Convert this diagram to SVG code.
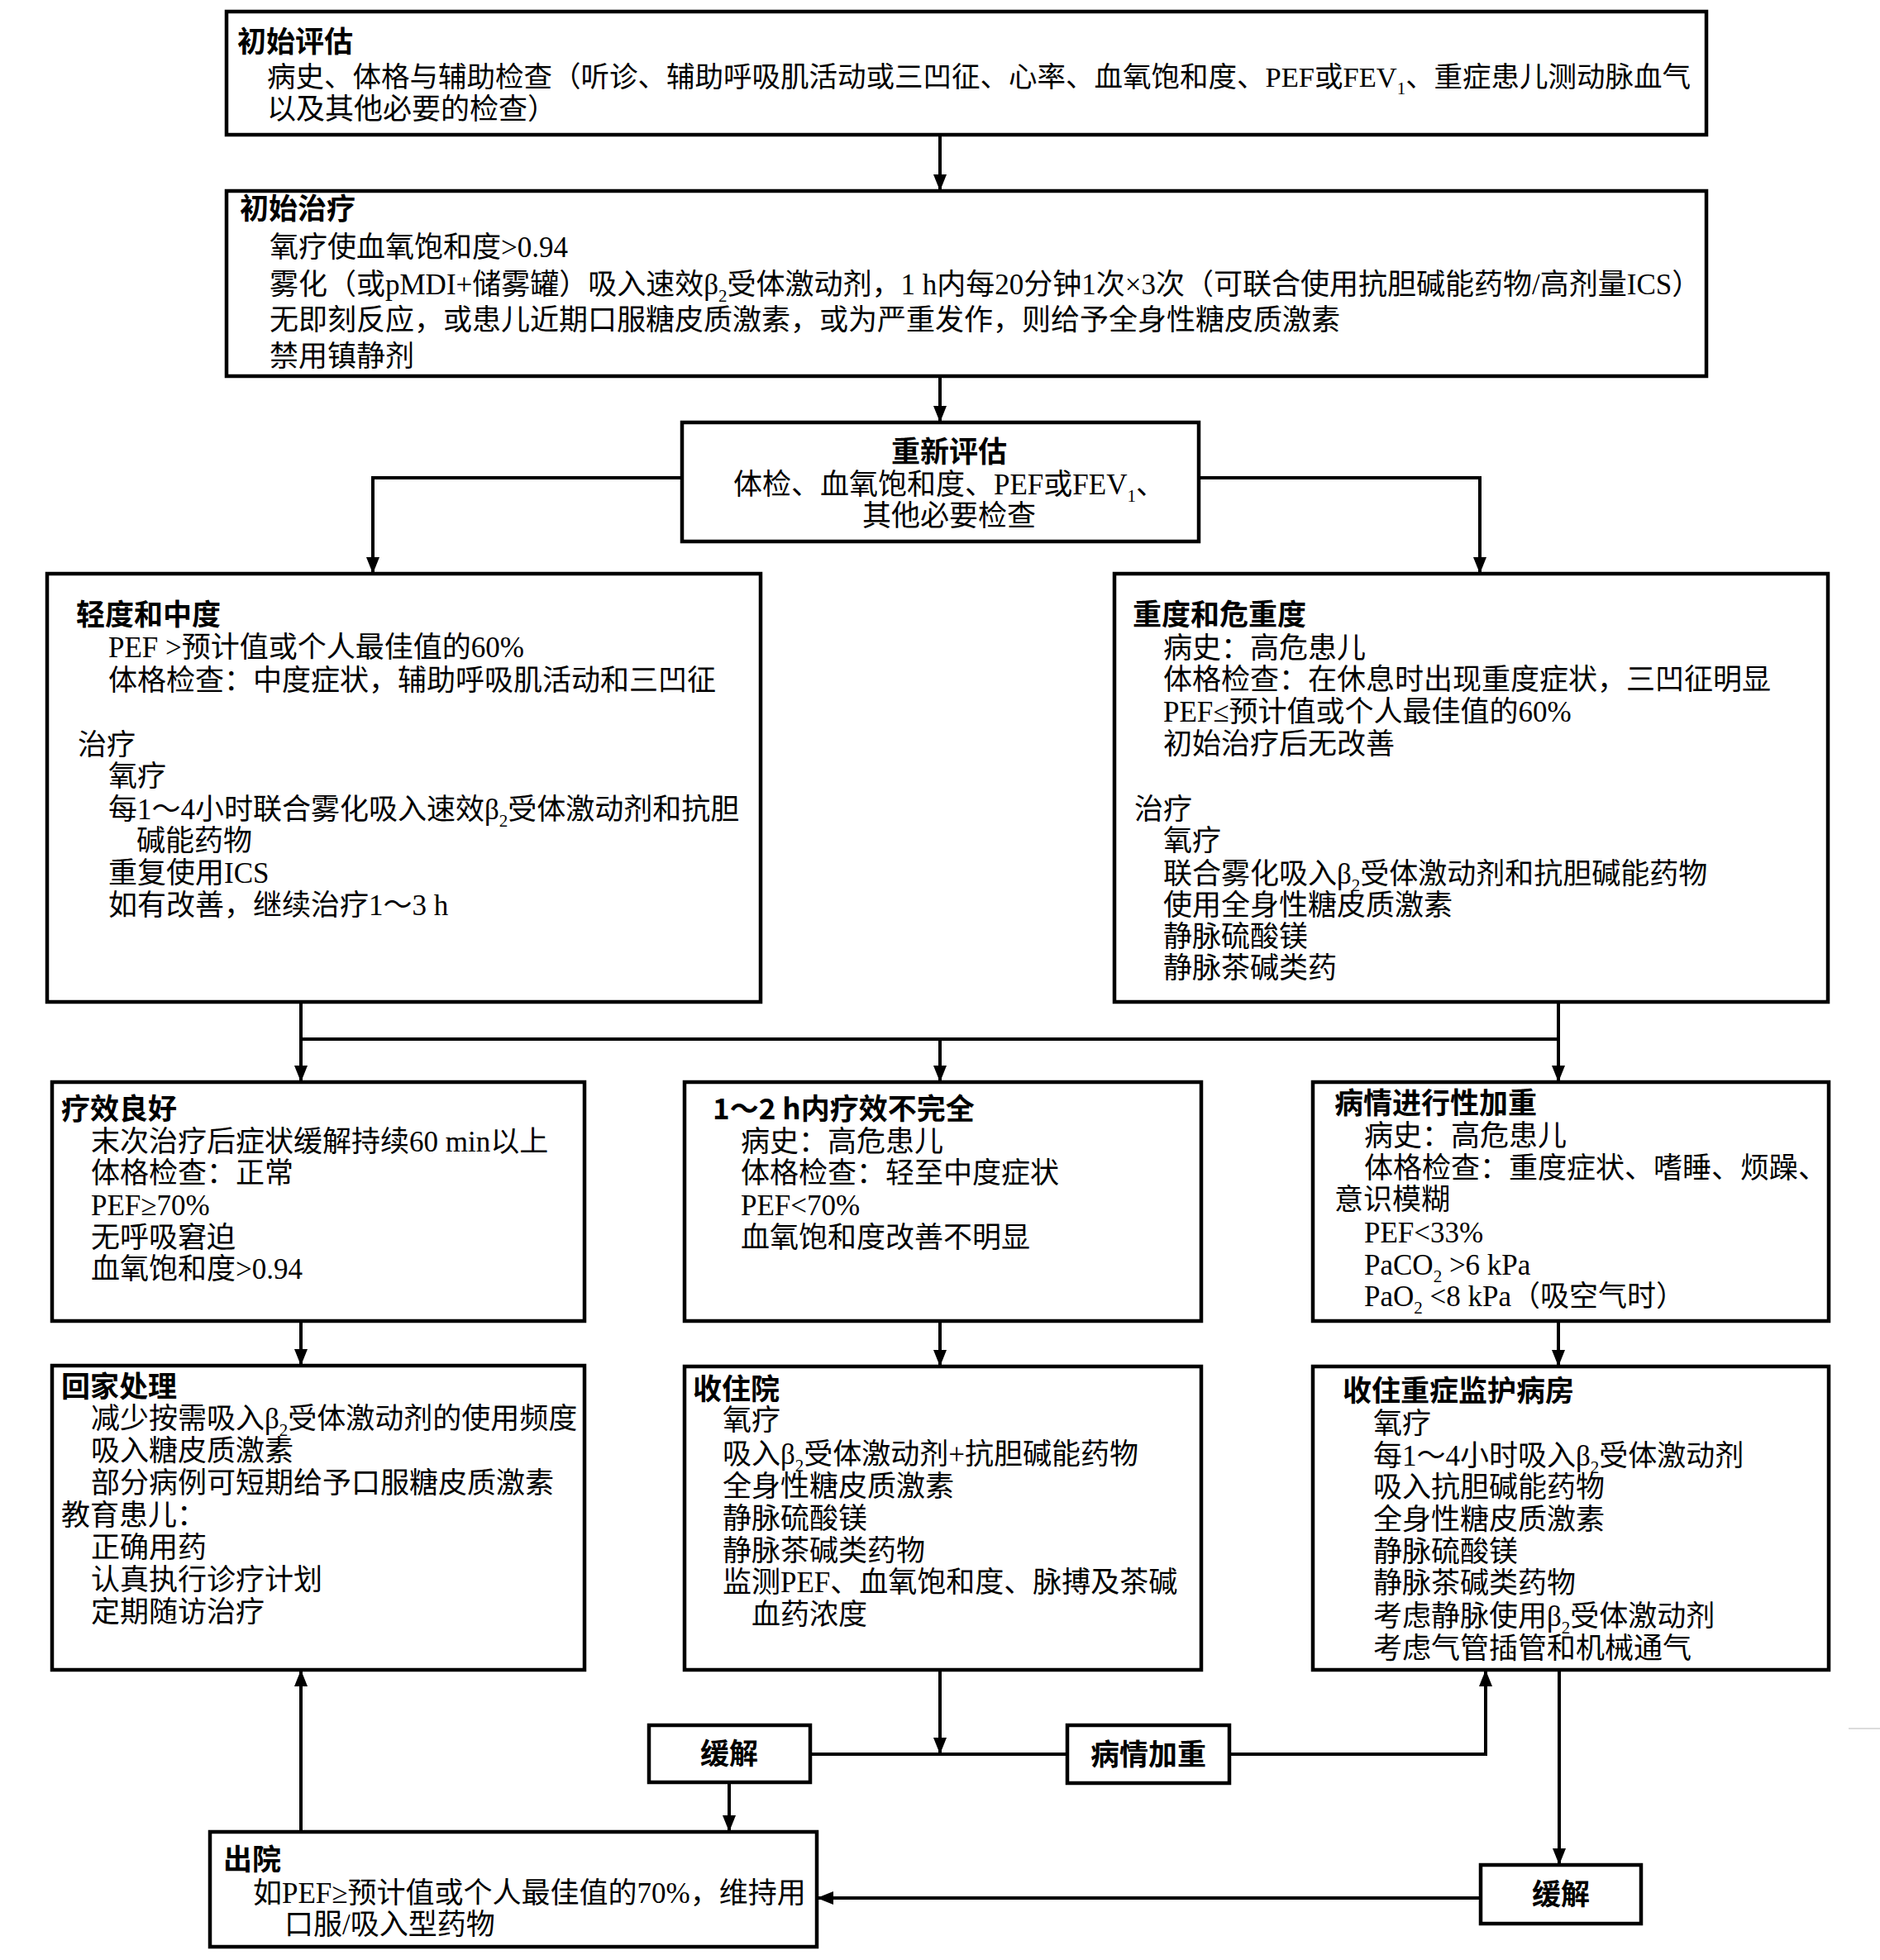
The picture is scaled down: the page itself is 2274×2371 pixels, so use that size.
<svg xmlns="http://www.w3.org/2000/svg" width="2274" height="2371" viewBox="0 0 2274 2371">
<style>
.bg{fill:#fff}
.box{fill:#fff;stroke:#000;stroke-width:4.5}
.ln{fill:none;stroke:#000;stroke-width:4}
.t{font-family:"Liberation Serif","Noto Sans CJK SC",serif;font-size:35px;fill:#000}
.h{font-family:"Noto Sans CJK SC",sans-serif;font-weight:bold;font-size:35px;fill:#000}
.c{text-anchor:middle}
.sub{font-size:21px}
</style>
<defs>
<marker id="ah" markerUnits="userSpaceOnUse" markerWidth="20" markerHeight="16" refX="20" refY="8" orient="auto">
<path d="M0,0 L20,8 L0,16 z" fill="#000"/>
</marker>
</defs>
<rect class="bg" x="0" y="0" width="2274" height="2371"/>

<g id="connectors">
<line class="ln" x1="1137" y1="163" x2="1137" y2="231" marker-end="url(#ah)"/>
<line class="ln" x1="1137" y1="455" x2="1137" y2="511" marker-end="url(#ah)"/>
<polyline class="ln" points="825,578 451,578 451,694" marker-end="url(#ah)"/>
<polyline class="ln" points="1450,578 1790,578 1790,694" marker-end="url(#ah)"/>
<line class="ln" x1="364" y1="1212" x2="364" y2="1257"/>
<line class="ln" x1="1885" y1="1212" x2="1885" y2="1257"/>
<line class="ln" x1="362" y1="1257" x2="1887" y2="1257"/>
<line class="ln" x1="364" y1="1257" x2="364" y2="1309" marker-end="url(#ah)"/>
<line class="ln" x1="1137" y1="1257" x2="1137" y2="1309" marker-end="url(#ah)"/>
<line class="ln" x1="1885" y1="1257" x2="1885" y2="1309" marker-end="url(#ah)"/>
<line class="ln" x1="364" y1="1598" x2="364" y2="1652" marker-end="url(#ah)"/>
<line class="ln" x1="1137" y1="1598" x2="1137" y2="1653" marker-end="url(#ah)"/>
<line class="ln" x1="1885" y1="1598" x2="1885" y2="1653" marker-end="url(#ah)"/>
<line class="ln" x1="364" y1="2216" x2="364" y2="2020" marker-end="url(#ah)"/>
<line class="ln" x1="1137" y1="2020" x2="1137" y2="2122" marker-end="url(#ah)"/>
<line class="ln" x1="980" y1="2122" x2="1291" y2="2122"/>
<polyline class="ln" points="1487,2122 1797,2122 1797,2020" marker-end="url(#ah)"/>
<line class="ln" x1="882" y1="2156" x2="882" y2="2216" marker-end="url(#ah)"/>
<line class="ln" x1="1886" y1="2020" x2="1886" y2="2256" marker-end="url(#ah)"/>
<line class="ln" x1="1791" y1="2296" x2="988" y2="2296" marker-end="url(#ah)"/>
</g>

<g id="n1">
<rect class="box" x="274" y="14" width="1790" height="149"/>
<text class="h" x="287" y="63">初始评估</text>
<text class="t" x="323" y="105" style="font-size:34.5px">病史、体格与辅助检查（听诊、辅助呼吸肌活动或三凹征、心率、血氧饱和度、PEF或FEV<tspan class="sub" dy="9">1</tspan><tspan dy="-9">、重症患儿测动脉血气</tspan></text>
<text class="t" x="323" y="144">以及其他必要的检查）</text>
</g>

<g id="n2">
<rect class="box" x="274" y="231" width="1790" height="224"/>
<text class="h" x="290" y="265">初始治疗</text>
<text class="t" x="326" y="311">氧疗使血氧饱和度&gt;0.94</text>
<text class="t" x="326" y="356">雾化（或pMDI+储雾罐）吸入速效β<tspan class="sub" dy="9">2</tspan><tspan dy="-9">受体激动剂，1 h内每20分钟1次×3次（可联合使用抗胆碱能药物/高剂量ICS）</tspan></text>
<text class="t" x="326" y="399">无即刻反应，或患儿近期口服糖皮质激素，或为严重发作，则给予全身性糖皮质激素</text>
<text class="t" x="326" y="443">禁用镇静剂</text>
</g>

<g id="n3">
<rect class="box" x="825" y="511" width="625" height="144"/>
<text class="h c" x="1148" y="559">重新评估</text>
<text class="t c" x="1148" y="598">体检、血氧饱和度、PEF或FEV<tspan class="sub" dy="9">1</tspan><tspan dy="-9">、</tspan></text>
<text class="t c" x="1148" y="636">其他必要检查</text>
</g>

<g id="n4">
<rect class="box" x="57" y="694" width="863" height="518"/>
<text class="h" x="92" y="756">轻度和中度</text>
<text class="t" x="131" y="795">PEF &gt;预计值或个人最佳值的60%</text>
<text class="t" x="131" y="835">体格检查：中度症状，辅助呼吸肌活动和三凹征</text>
<text class="t" x="94" y="913">治疗</text>
<text class="t" x="131" y="951">氧疗</text>
<text class="t" x="131" y="991">每1～4小时联合雾化吸入速效β<tspan class="sub" dy="9">2</tspan><tspan dy="-9">受体激动剂和抗胆</tspan></text>
<text class="t" x="165" y="1029">碱能药物</text>
<text class="t" x="131" y="1068">重复使用ICS</text>
<text class="t" x="131" y="1107">如有改善，继续治疗1～3 h</text>
</g>

<g id="n5">
<rect class="box" x="1348" y="694" width="863" height="518"/>
<text class="h" x="1370" y="756">重度和危重度</text>
<text class="t" x="1407" y="796">病史：高危患儿</text>
<text class="t" x="1407" y="834">体格检查：在休息时出现重度症状，三凹征明显</text>
<text class="t" x="1407" y="873">PEF≤预计值或个人最佳值的60%</text>
<text class="t" x="1407" y="912">初始治疗后无改善</text>
<text class="t" x="1372" y="991">治疗</text>
<text class="t" x="1407" y="1029">氧疗</text>
<text class="t" x="1407" y="1069">联合雾化吸入β<tspan class="sub" dy="9">2</tspan><tspan dy="-9">受体激动剂和抗胆碱能药物</tspan></text>
<text class="t" x="1407" y="1107">使用全身性糖皮质激素</text>
<text class="t" x="1407" y="1145">静脉硫酸镁</text>
<text class="t" x="1407" y="1183">静脉茶碱类药</text>
</g>

<g id="n6">
<rect class="box" x="63" y="1309" width="644" height="289"/>
<text class="h" x="74" y="1354">疗效良好</text>
<text class="t" x="110" y="1393">末次治疗后症状缓解持续60 min以上</text>
<text class="t" x="110" y="1431">体格检查：正常</text>
<text class="t" x="110" y="1470">PEF≥70%</text>
<text class="t" x="110" y="1509">无呼吸窘迫</text>
<text class="t" x="110" y="1547">血氧饱和度&gt;0.94</text>
</g>

<g id="n7">
<rect class="box" x="828" y="1309" width="625" height="289"/>
<text class="h" x="862" y="1354">1～2 h内疗效不完全</text>
<text class="t" x="896" y="1393">病史：高危患儿</text>
<text class="t" x="896" y="1431">体格检查：轻至中度症状</text>
<text class="t" x="896" y="1470">PEF&lt;70%</text>
<text class="t" x="896" y="1509">血氧饱和度改善不明显</text>
</g>

<g id="n8">
<rect class="box" x="1588" y="1309" width="624" height="289"/>
<text class="h" x="1614" y="1347">病情进行性加重</text>
<text class="t" x="1650" y="1386">病史：高危患儿</text>
<text class="t" x="1650" y="1425">体格检查：重度症状、嗜睡、烦躁、</text>
<text class="t" x="1614" y="1463">意识模糊</text>
<text class="t" x="1650" y="1503">PEF&lt;33%</text>
<text class="t" x="1650" y="1542">PaCO<tspan class="sub" dy="9">2</tspan><tspan dy="-9"> &gt;6 kPa</tspan></text>
<text class="t" x="1650" y="1580">PaO<tspan class="sub" dy="9">2</tspan><tspan dy="-9"> &lt;8 kPa（吸空气时）</tspan></text>
</g>

<g id="n9">
<rect class="box" x="63" y="1652" width="644" height="368"/>
<text class="h" x="74" y="1690">回家处理</text>
<text class="t" x="110" y="1728">减少按需吸入β<tspan class="sub" dy="9">2</tspan><tspan dy="-9">受体激动剂的使用频度</tspan></text>
<text class="t" x="110" y="1767">吸入糖皮质激素</text>
<text class="t" x="110" y="1806">部分病例可短期给予口服糖皮质激素</text>
<text class="t" x="74" y="1845">教育患儿：</text>
<text class="t" x="110" y="1884">正确用药</text>
<text class="t" x="110" y="1923">认真执行诊疗计划</text>
<text class="t" x="110" y="1962">定期随访治疗</text>
</g>

<g id="n10">
<rect class="box" x="828" y="1653" width="625" height="367"/>
<text class="h" x="838" y="1693">收住院</text>
<text class="t" x="874" y="1730">氧疗</text>
<text class="t" x="874" y="1771">吸入β<tspan class="sub" dy="9">2</tspan><tspan dy="-9">受体激动剂+抗胆碱能药物</tspan></text>
<text class="t" x="874" y="1810">全身性糖皮质激素</text>
<text class="t" x="874" y="1849">静脉硫酸镁</text>
<text class="t" x="874" y="1888">静脉茶碱类药物</text>
<text class="t" x="874" y="1926">监测PEF、血氧饱和度、脉搏及茶碱</text>
<text class="t" x="909" y="1965">血药浓度</text>
</g>

<g id="n11">
<rect class="box" x="1588" y="1653" width="624" height="367"/>
<text class="h" x="1624" y="1695">收住重症监护病房</text>
<text class="t" x="1661" y="1734">氧疗</text>
<text class="t" x="1661" y="1773">每1～4小时吸入β<tspan class="sub" dy="9">2</tspan><tspan dy="-9">受体激动剂</tspan></text>
<text class="t" x="1661" y="1811">吸入抗胆碱能药物</text>
<text class="t" x="1661" y="1850">全身性糖皮质激素</text>
<text class="t" x="1661" y="1889">静脉硫酸镁</text>
<text class="t" x="1661" y="1927">静脉茶碱类药物</text>
<text class="t" x="1661" y="1967">考虑静脉使用β<tspan class="sub" dy="9">2</tspan><tspan dy="-9">受体激动剂</tspan></text>
<text class="t" x="1661" y="2006">考虑气管插管和机械通气</text>
</g>

<g id="n12">
<rect class="box" x="785" y="2087" width="195" height="69"/>
<text class="h c" x="882" y="2134">缓解</text>
</g>

<g id="n13">
<rect class="box" x="1291" y="2087" width="196" height="70"/>
<text class="h c" x="1389" y="2135">病情加重</text>
</g>

<g id="n14">
<rect class="box" x="254" y="2216" width="734" height="139"/>
<text class="h" x="270" y="2262">出院</text>
<text class="t" x="306" y="2302">如PEF≥预计值或个人最佳值的70%，维持用</text>
<text class="t" x="344" y="2340">口服/吸入型药物</text>
</g>

<g id="n15">
<rect class="box" x="1791" y="2256" width="194" height="71"/>
<text class="h c" x="1888" y="2304">缓解</text>
</g>

<line x1="2236" y1="2091" x2="2274" y2="2091" stroke="#d0d0d0" stroke-width="1.5"/>
</svg>
